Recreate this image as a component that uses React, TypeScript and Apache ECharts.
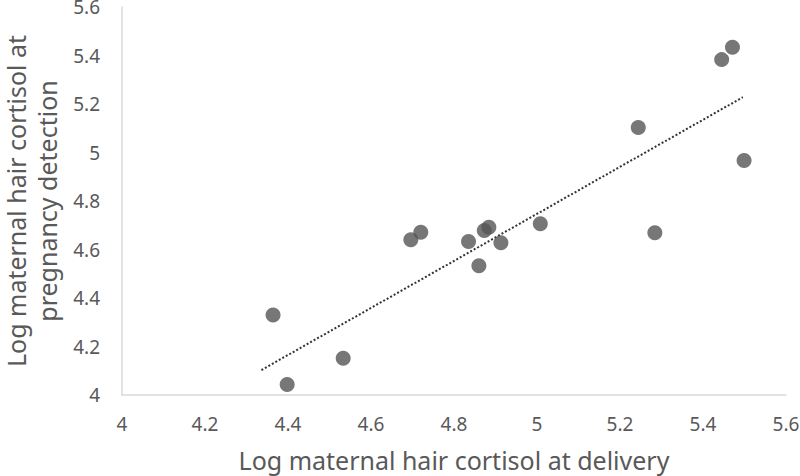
import React, { useEffect, useRef } from "react";
import * as echarts from "echarts";

const deliveryX = [4.364, 4.398, 4.533, 4.696, 4.72, 4.835, 4.86, 4.873, 4.884, 4.913, 5.008, 5.244, 5.284, 5.445, 5.471, 5.499];
const pregnancyY = [4.33, 4.043, 4.152, 4.64, 4.671, 4.633, 4.533, 4.678, 4.692, 4.628, 4.706, 5.103, 4.669, 5.383, 5.434, 4.967];
const trendX = [4.336, 5.496];
const trendY = [4.103, 5.228];
const xTitle = "Log maternal hair cortisol at delivery";
const yTitle = "Log maternal hair cortisol at\npregnancy detection";

export default function App() {
  const ref = useRef<HTMLDivElement>(null);
  useEffect(() => {
    if (!ref.current) return;
    const chart = echarts.init(ref.current, undefined, { renderer: "svg" });
    const font = "'Noto Sans', 'Open Sans', sans-serif";
    const axisCommon = {
      type: "value" as const,
      min: 4,
      max: 5.6,
      interval: 0.2,
      splitLine: { show: false },
      axisTick: { show: false },
      axisLine: { show: true, lineStyle: { color: "#d9d9d9", width: 1.5 } },
      nameLocation: "middle" as const,
    };
    const labelStyle = {
      color: "#595959",
      fontSize: 19,
      fontFamily: font,
      formatter: (v: number) => String(Math.round(v * 10) / 10),
    };
    chart.setOption({
      animation: false,
      backgroundColor: "#ffffff",
      grid: { left: 122, right: 14, top: 7, bottom: 81, outerBoundsMode: "none", containLabel: false },
      xAxis: {
        ...axisCommon,
        name: xTitle,
        nameGap: 52,
        nameTextStyle: { color: "#595959", fontSize: 25, fontFamily: font, lineHeight: 26 },
        axisLabel: { ...labelStyle, margin: 19 },
      },
      yAxis: {
        ...axisCommon,
        name: yTitle,
        nameGap: 59,
        nameTextStyle: { color: "#595959", fontSize: 25, fontFamily: font, lineHeight: 31 },
        axisLabel: { ...labelStyle, margin: 22 },
      },
      series: [
        {
          type: "line",
          data: trendX.map((x, i) => [x, trendY[i]]),
          symbol: "none",
          lineStyle: { color: "#333333", width: 2, type: [2, 2] },
          z: 1,
        },
        {
          type: "scatter",
          data: deliveryX.map((x, i) => [x, pregnancyY[i]]),
          symbol: "circle",
          symbolSize: 15,
          itemStyle: { color: "#555555" },
          z: 2,
        },
      ],
    });
    return () => chart.dispose();
  }, []);
  return (
    <div
      ref={ref}
      style={{ position: "absolute", left: 0, top: 0, width: 800, height: 476 }}
    />
  );
}
